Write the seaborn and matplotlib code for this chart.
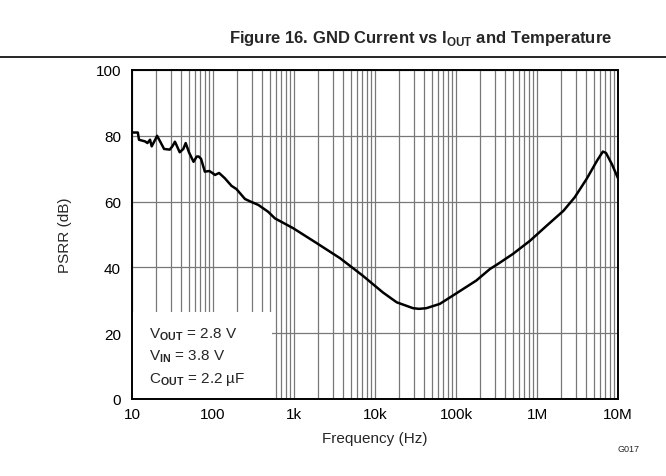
import numpy as np
import pandas as pd
import matplotlib.pyplot as plt
import seaborn as sns
from matplotlib.lines import Line2D
from matplotlib.patches import Rectangle

# values
freq_hz = [10, 11.8, 12.2, 14.5, 15.5, 16.7, 17.5, 19.5, 20.4, 22.0, 24.9, 29.2,
           31.5, 33.9, 36.0, 38.8, 43.0, 46.0, 50.5, 54.0, 57.5, 63.0, 66.7, 71.2,
           79.3, 90.0, 98.2, 105.8, 118.9, 140, 169, 195, 248, 285, 362, 480, 582,
           979, 1900, 3700, 7050, 12500, 18500, 29500, 35000, 43000, 63000, 91000,
           178000, 262000, 318000, 505000, 820000, 1320000, 2120000, 2920000,
           4100000, 5500000, 6500000, 7100000, 8400000, 10000000]
psrr_db = [81.0, 81.0, 78.8, 78.3, 77.8, 78.8, 76.8, 79.0, 80.0, 78.5, 76.0, 75.8,
           76.8, 78.2, 76.8, 75.0, 76.0, 77.8, 75.0, 73.5, 72.1, 73.7, 73.7, 73.0,
           69.1, 69.3, 68.7, 68.1, 68.7, 67.1, 64.8, 63.8, 60.8, 60.1, 59.0, 56.9, 54.9,
           51.9, 47.4, 42.8, 37.5, 32.4, 29.4, 27.6, 27.4, 27.6, 28.9, 31.4,
           36.0, 39.5, 40.8, 44.1, 48.1, 52.7, 57.2, 61.3,
           66.9, 72.4, 75.2, 74.8, 71.4, 67.1]

x_ticks = [10, 100, 1e3, 1e4, 1e5, 1e6, 1e7]
x_tick_labels = ["10", "100", "1k", "10k", "100k", "1M", "10M"]
y_ticks = [0, 20, 40, 60, 80, 100]

conditions = [r"V$_{\mathbf{OUT}}$ = 2.8 V",
              r"V$_{\mathbf{IN}}$ = 3.8 V",
              r"C$_{\mathbf{OUT}}$ = 2.2 µF"]

sns.set_style("white")
plt.rcParams['font.family'] = ['Liberation Sans', 'DejaVu Sans']
plt.rcParams['mathtext.fontset'] = 'custom'
plt.rcParams['mathtext.rm'] = 'Liberation Sans'
plt.rcParams['mathtext.bf'] = 'Liberation Sans:bold'

df = pd.DataFrame({"freq": freq_hz, "psrr": psrr_db})

fig = plt.figure(figsize=(6.66, 4.77), dpi=100)
ax = fig.add_axes([132 / 666, 77 / 477, 486 / 666, 329 / 477])

sns.lineplot(data=df, x="freq", y="psrr", ax=ax, color="black", lw=1.8, zorder=3)

ax.set_xscale("log")
ax.set_xlim(10, 1e7)
ax.set_ylim(0, 100)
ax.set_xticks(x_ticks)
ax.set_xticklabels(x_tick_labels)
ax.set_yticks(y_ticks)
ax.xaxis.set_minor_locator(plt.matplotlib.ticker.LogLocator(base=10, subs=np.arange(2, 10)))
ax.xaxis.set_minor_formatter(plt.NullFormatter())
ax.tick_params(axis="both", which="both", length=0, labelsize=11, colors="black")
ax.tick_params(axis="x", pad=6)
ax.tick_params(axis="y", pad=8)

ax.set_axisbelow(True)
ax.grid(True, which="major", color="#787878", lw=0.9)
ax.grid(True, which="minor", axis="x", color="#787878", lw=0.9)
for s in ax.spines.values():
    s.set_color("black")
    s.set_linewidth(1.4)

ax.set_xlabel("Frequency (Hz)", fontsize=11, labelpad=7)
ax.set_ylabel("PSRR (dB)", fontsize=11, labelpad=17)

# white panel behind the conditions text hides the grid
ax.add_patch(Rectangle((0, 0), 0.288, 0.264, transform=ax.transAxes,
                       facecolor="white", edgecolor="none", zorder=1))
for i, t in enumerate(conditions):
    ax.text(0.035, 0.20 - i * 0.069, t, transform=ax.transAxes, fontsize=11,
            va="center", ha="left", zorder=2)

fig.text(421 / 666, 1 - 39 / 477, r"Figure 16. GND Current vs I$_{\mathbf{OUT}}$ and Temperature",
         ha="center", va="center", fontsize=12, fontweight="bold")
fig.add_artist(Line2D([0, 1], [1 - 58 / 477, 1 - 58 / 477], color="black", lw=1.2,
                      transform=fig.transFigure))
fig.text(629 / 666, 1 - 450 / 477, "G017", ha="center", va="center", fontsize=6.5)

plt.savefig("out.png", dpi=100)
